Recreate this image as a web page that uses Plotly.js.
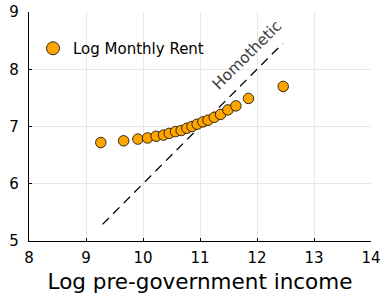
<!DOCTYPE html>
<html>
<head>
<meta charset="utf-8">
<script src="https://cdn.plot.ly/plotly-3.0.1.min.js"></script>
<style>html,body{margin:0;padding:0;background:#fff;}#chart{width:381px;height:294px;}</style>
</head>
<body>
<div id="chart"></div>
<script>
var logIncome = [9.26, 9.66, 9.91, 10.08, 10.23, 10.36, 10.46, 10.57, 10.67, 10.77, 10.86, 10.95, 11.05, 11.14, 11.25, 11.36, 11.49, 11.63, 11.85, 12.46];
var logRent = [6.72, 6.75, 6.78, 6.80, 6.83, 6.85, 6.88, 6.91, 6.93, 6.97, 7.00, 7.04, 7.08, 7.11, 7.16, 7.21, 7.29, 7.36, 7.49, 7.70];
var homX = [9.29, 12.45];
var homY = [5.29, 8.45];
var xTicks = [8, 9, 10, 11, 12, 13, 14];
var yTicks = [5, 6, 7, 8, 9];

var font = 'DejaVu Sans, sans-serif';
var traces = [
  {x: homX, y: homY, mode: 'lines', type: 'scatter', showlegend: false,
   line: {color: '#000', width: 1.3, dash: '9px,6px'}, hoverinfo: 'skip'},
  {x: logIncome, y: logRent, mode: 'markers', type: 'scatter', showlegend: false,
   marker: {color: '#FFA500', size: 10.5, line: {color: '#000', width: 0.8}}},
  {x: [null], y: [null], mode: 'markers', type: 'scatter', name: 'Log Monthly Rent',
   marker: {color: '#FFA500', size: 13, line: {color: '#000', width: 0.8}}}
];
var layout = {
  width: 381, height: 294,
  margin: {l: 29, r: 10, t: 12, b: 53},
  paper_bgcolor: '#fff', plot_bgcolor: '#fff',
  font: {family: font, color: '#000'},
  showlegend: true,
  legend: {bgcolor: 'rgba(0,0,0,0)', font: {family: font, size: 15, color: '#000'}},
  xaxis: {range: [8, 14], tickvals: xTicks, ticktext: xTicks.map(String),
          showgrid: true, gridcolor: '#e8e8e8', gridwidth: 1, zeroline: false,
          showline: true, linecolor: '#000', linewidth: 1.2, mirror: false,
          ticks: 'inside', ticklen: 3, tickcolor: '#000', tickwidth: 1, ticklabelstandoff: 3,
          tickfont: {family: font, size: 15, color: '#000'},
          title: {text: 'Log pre-government income', font: {family: font, size: 21.5, color: '#000'}, standoff: 13}},
  yaxis: {range: [5, 9], tickvals: yTicks, ticktext: yTicks.map(String),
          showgrid: true, gridcolor: '#e8e8e8', gridwidth: 1, zeroline: false,
          showline: true, linecolor: '#000', linewidth: 1.2, mirror: false,
          ticks: 'inside', ticklen: 3, tickcolor: '#000', tickwidth: 1, ticklabelstandoff: 6,
          tickfont: {family: font, size: 15, color: '#000'}},
  annotations: [{x: 11.83, y: 8.25, xref: 'x', yref: 'y', text: 'Homothetic', showarrow: false,
                 textangle: -45, font: {family: font, size: 15.5, color: '#404040'}}]
};
var pw = 381 - 29 - 10, ph = 294 - 12 - 53;
layout.legend.x = (33 - 29) / pw;
layout.legend.y = 1 - (32 - 12) / ph;
layout.legend.xanchor = 'left';
layout.legend.yanchor = 'top';
Plotly.newPlot('chart', traces, layout, {displayModeBar: false, staticPlot: true});
</script>
</body>
</html>
